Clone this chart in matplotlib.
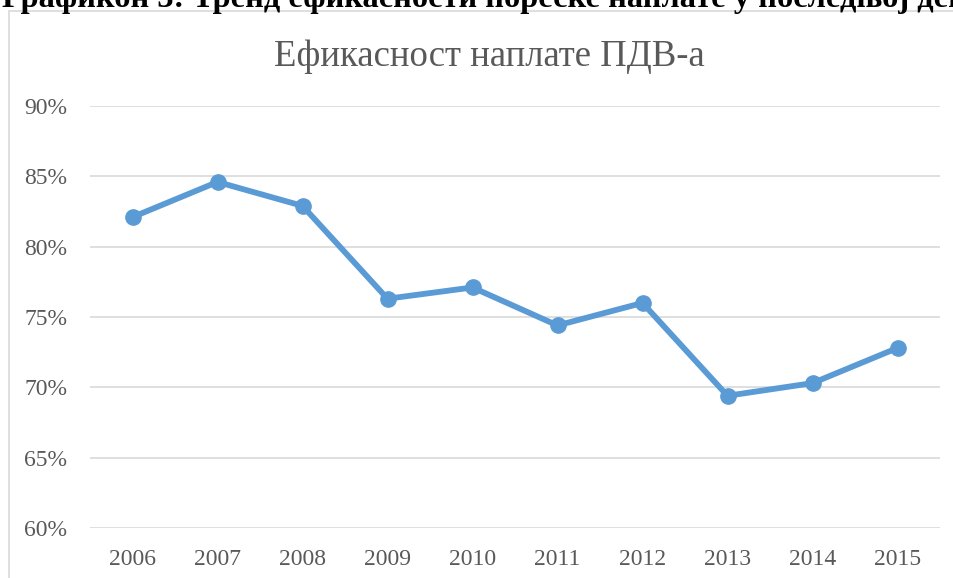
import matplotlib.pyplot as plt
from matplotlib.patches import Rectangle
from matplotlib.ticker import FuncFormatter

# Data
years = ['2006', '2007', '2008', '2009', '2010', '2011', '2012', '2013', '2014', '2015']
efficiency = [82.1, 84.6, 82.9, 76.3, 77.1, 74.4, 76.0, 69.4, 70.3, 72.8]
y_ticks = [60, 65, 70, 75, 80, 85, 90]

heading = 'Графикон 3: Тренд ефикасности пореске наплате у последњој деценији'
title = 'Ефикасност наплате ПДВ-а'

plt.rcParams['font.family'] = ['Liberation Serif', 'DejaVu Serif']

W, H = 954, 578
fig = plt.figure(figsize=(W / 100, H / 100), dpi=100)

# chart frame (runs off the right and bottom edges)
fig.patches.append(Rectangle((9 / W, -0.1), 1.2, (H - 11) / H + 0.1,
                             transform=fig.transFigure, fill=False,
                             edgecolor='#d9d9d9', linewidth=1.2))

# document heading above the chart, clipped by the page edge as in the source
fig.text(2 / W, (H - 7) / H, heading, fontsize=23.3, fontweight='bold',
         color='black', ha='left', va='baseline')

ax = fig.add_axes([90 / W, (H - 528) / H, 850 / W, 422 / H])
x = list(range(len(years)))
ax.plot(x, efficiency, color='#5b9bd5', linewidth=4.2, marker='o',
        markersize=11, solid_capstyle='round', zorder=3)

ax.set_xlim(-0.5, len(years) - 0.5)
ax.set_ylim(60, 90)
ax.set_xticks(x)
ax.set_xticklabels(years)
ax.set_yticks(y_ticks)
ax.yaxis.set_major_formatter(FuncFormatter(lambda v, p: f'{v:.0f}%'))

ax.grid(axis='y', color='#d9d9d9', linewidth=1.2)
ax.set_axisbelow(True)
for s in ax.spines.values():
    s.set_visible(False)
ax.tick_params(axis='both', length=0, labelsize=17, colors='#595959')
ax.tick_params(axis='y', pad=16.5)
ax.tick_params(axis='x', pad=15)

fig.text(489 / W, (H - 66) / H, title, fontsize=26.5, color='#595959',
         ha='center', va='baseline')

plt.savefig('out.png', dpi=100)
